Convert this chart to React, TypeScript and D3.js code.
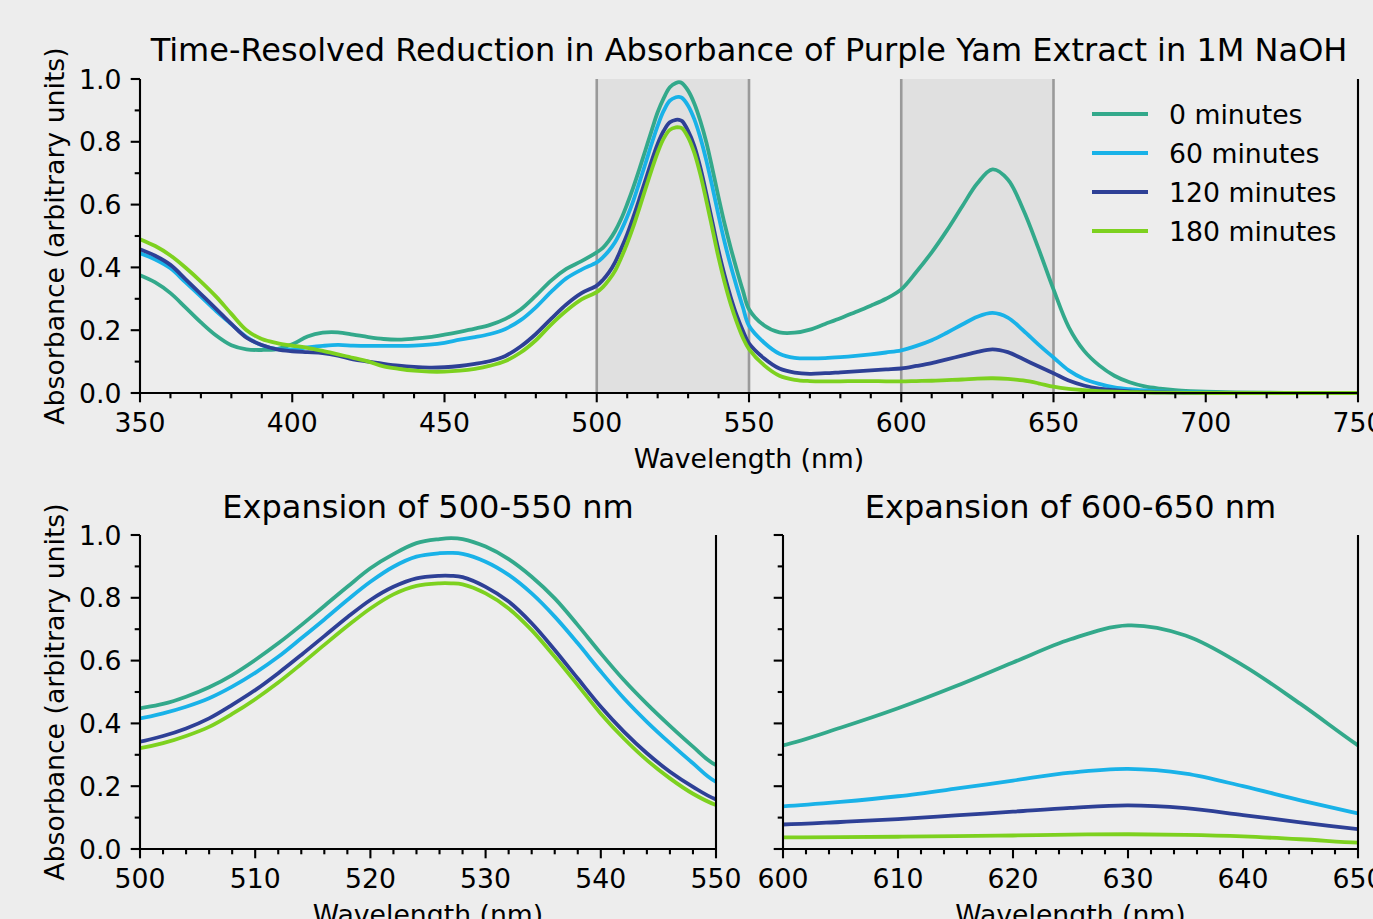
import React from 'react';
import * as d3 from 'd3';

// wavelengths (nm); finer spacing across the main peak
const wavelengths = [
  350, 355, 360, 365, 370, 375, 380, 385, 390, 395, 400, 405, 410, 415, 420, 425, 430, 435, 440, 445,
  450, 455, 460, 465, 470, 475, 480, 485, 490, 495, 500,
  502, 504, 506, 508, 510, 512, 514, 516, 518, 520, 522, 524, 526, 527, 528, 530, 532, 534, 536, 538,
  540, 542, 544, 546, 548, 550,
  555, 560, 565, 570, 575, 580, 585, 590, 595, 600,
  605, 610, 615, 620, 625, 630, 635, 640, 645, 650,
  655, 660, 665, 670, 675, 680, 685, 690, 695, 700,
  710, 720, 730, 740, 750,
];

const abs0min = [
  0.375, 0.352, 0.318, 0.272, 0.225, 0.183, 0.152, 0.139, 0.137, 0.140, 0.155, 0.180, 0.192, 0.193, 0.186, 0.178, 0.172, 0.170, 0.173, 0.178,
  0.186, 0.195, 0.205, 0.217, 0.236, 0.266, 0.310, 0.358, 0.395, 0.420, 0.448,
  0.462, 0.485, 0.515, 0.554, 0.602, 0.655, 0.713, 0.774, 0.835, 0.894, 0.939, 0.974, 0.987, 0.990, 0.987, 0.963, 0.923, 0.867, 0.798, 0.713,
  0.623, 0.538, 0.462, 0.392, 0.326, 0.267,
  0.215, 0.193, 0.192, 0.202, 0.220, 0.238, 0.258, 0.278, 0.300, 0.330,
  0.386, 0.448, 0.518, 0.594, 0.668, 0.712, 0.680, 0.585, 0.462, 0.330,
  0.210, 0.135, 0.088, 0.055, 0.034, 0.021, 0.014, 0.009, 0.006, 0.004,
  0.002, 0.001, 0.0005, 0, 0,
];

const abs60min = [
  0.445, 0.425, 0.397, 0.352, 0.307, 0.261, 0.219, 0.178, 0.152, 0.140, 0.139, 0.145, 0.150, 0.153, 0.151, 0.150, 0.150, 0.150, 0.151, 0.154,
  0.160, 0.170, 0.178, 0.188, 0.204, 0.232, 0.273, 0.322, 0.365, 0.393, 0.416,
  0.432, 0.453, 0.480, 0.517, 0.561, 0.612, 0.671, 0.731, 0.793, 0.851, 0.899, 0.931, 0.942, 0.943, 0.940, 0.915, 0.873, 0.814, 0.740, 0.655,
  0.565, 0.480, 0.405, 0.337, 0.273, 0.214,
  0.160, 0.125, 0.112, 0.110, 0.111, 0.114, 0.118, 0.123, 0.129, 0.136,
  0.150, 0.168, 0.192, 0.218, 0.243, 0.255, 0.240, 0.200, 0.155, 0.113,
  0.072, 0.045, 0.029, 0.018, 0.012, 0.008, 0.005, 0.003, 0.002, 0.001,
  0.0005, 0, 0, 0, 0,
];

const abs120min = [
  0.458, 0.437, 0.408, 0.362, 0.315, 0.268, 0.220, 0.176, 0.153, 0.139, 0.133, 0.130, 0.127, 0.119, 0.107, 0.100, 0.093, 0.087, 0.083, 0.081,
  0.082, 0.086, 0.093, 0.102, 0.118, 0.148, 0.188, 0.236, 0.282, 0.318, 0.342,
  0.360, 0.384, 0.416, 0.459, 0.506, 0.560, 0.618, 0.678, 0.738, 0.793, 0.835, 0.862, 0.870, 0.870, 0.866, 0.835, 0.788, 0.719, 0.634, 0.543,
  0.453, 0.374, 0.305, 0.246, 0.198, 0.158,
  0.110, 0.078, 0.065, 0.061, 0.063, 0.066, 0.069, 0.072, 0.075, 0.078,
  0.086, 0.095, 0.107, 0.119, 0.131, 0.139, 0.130, 0.108, 0.085, 0.063,
  0.040, 0.024, 0.014, 0.009, 0.005, 0.003, 0.002, 0.001, 0.0005, 0,
  0, 0, 0, 0, 0,
];

const abs180min = [
  0.490, 0.468, 0.438, 0.399, 0.355, 0.307, 0.252, 0.200, 0.172, 0.159, 0.151, 0.144, 0.134, 0.123, 0.112, 0.100, 0.085, 0.077, 0.071, 0.068,
  0.068, 0.071, 0.077, 0.087, 0.102, 0.129, 0.168, 0.218, 0.262, 0.298, 0.321,
  0.337, 0.360, 0.389, 0.430, 0.477, 0.530, 0.589, 0.650, 0.710, 0.766, 0.811, 0.838, 0.846, 0.846, 0.843, 0.814, 0.766, 0.697, 0.612, 0.522,
  0.431, 0.352, 0.283, 0.225, 0.176, 0.140,
  0.088, 0.055, 0.042, 0.038, 0.037, 0.037, 0.038, 0.038, 0.037, 0.037,
  0.038, 0.039, 0.041, 0.043, 0.046, 0.047, 0.045, 0.040, 0.031, 0.020,
  0.013, 0.009, 0.006, 0.004, 0.003, 0.002, 0.001, 0.001, 0.0005, 0,
  0, 0, 0, 0, 0,
];

const seriesNames = ['0 minutes', '60 minutes', '120 minutes', '180 minutes'];
const seriesValues = [abs0min, abs60min, abs120min, abs180min];
const seriesColors = ['#33a98b', '#19b2e8', '#2e4096', '#7dd11f'];

const highlightBands = [[500, 550], [600, 650]];

const FONT = 'DejaVu Sans';
const BG = '#ededed';
const FS = 26.7;
const TITLE_FS = 32;

const fmtY = d3.format('.1f');

type PanelProps = {
  id: string;
  x0: number; x1: number; y0: number; y1: number;
  domain: [number, number];
  majorStep: number;
  minorStep: number;
  title: string;
  titleY: number;
  showYLabels: boolean;
  bands?: number[][];
};

const Panel = (props: PanelProps) => {
  const { id, x0, x1, y0, y1, domain, majorStep, minorStep } = props;
  const x = d3.scaleLinear().domain(domain).range([x0, x1]);
  const y = d3.scaleLinear().domain([0, 1]).range([y1, y0]);

  const xMajor = d3.range(domain[0], domain[1] + 0.001, majorStep);
  const xMinor = d3.range(domain[0], domain[1] + 0.001, minorStep).filter(v => !xMajor.includes(v));
  const yMajor = d3.range(0, 1.0001, 0.2);
  const yMinor = d3.range(0.1, 1, 0.2);

  const line = d3.line<number>()
    .x((d, i) => x(wavelengths[i]))
    .y(d => y(d))
    .curve(d3.curveCatmullRom.alpha(0.5));

  const majorLen = 9.3;
  const minorLen = 5.3;

  return (
    <g>
      <defs>
        <clipPath id={id}>
          <rect x={x0} y={y0 - 2} width={x1 - x0} height={y1 - y0 + 4} />
        </clipPath>
      </defs>

      {(props.bands || []).map((b, i) => (
        <g key={i}>
          <rect x={x(b[0])} y={y0} width={x(b[1]) - x(b[0])} height={y1 - y0} fill="#e0e0e0" />
          <line x1={x(b[0])} x2={x(b[0])} y1={y0} y2={y1} stroke="#9a9a9a" strokeWidth={2.6} />
          <line x1={x(b[1])} x2={x(b[1])} y1={y0} y2={y1} stroke="#9a9a9a" strokeWidth={2.6} />
        </g>
      ))}

      <g clipPath={`url(#${id})`}>
        {seriesValues.map((vals, i) => (
          <path key={i} d={line(vals) || ''} fill="none" stroke={seriesColors[i]} strokeWidth={3.8} />
        ))}
      </g>

      {/* spines: left, bottom, right */}
      <line x1={x0} x2={x0} y1={y0} y2={y1} stroke="#000" strokeWidth={2.1} />
      <line x1={x1} x2={x1} y1={y0} y2={y1} stroke="#000" strokeWidth={2.1} />
      <line x1={x0 - 1} x2={x1 + 1} y1={y1} y2={y1} stroke="#000" strokeWidth={2.1} />

      {/* x ticks */}
      {xMajor.map(v => (
        <g key={'xm' + v}>
          <line x1={x(v)} x2={x(v)} y1={y1} y2={y1 + majorLen} stroke="#000" strokeWidth={2.1} />
          <text x={x(v)} y={y1 + 39} textAnchor="middle" fontSize={FS} fontFamily={FONT}>{v}</text>
        </g>
      ))}
      {xMinor.map(v => (
        <line key={'xn' + v} x1={x(v)} x2={x(v)} y1={y1} y2={y1 + minorLen} stroke="#000" strokeWidth={2.1} />
      ))}

      {/* y ticks */}
      {yMajor.map(v => (
        <g key={'ym' + v}>
          <line x1={x0 - majorLen} x2={x0} y1={y(v)} y2={y(v)} stroke="#000" strokeWidth={2.1} />
          {props.showYLabels && (
            <text x={x0 - 18.5} y={y(v)} dy="0.36em" textAnchor="end" fontSize={FS} fontFamily={FONT}>{fmtY(v)}</text>
          )}
        </g>
      ))}
      {yMinor.map(v => (
        <line key={'yn' + v} x1={x0 - minorLen} x2={x0} y1={y(v)} y2={y(v)} stroke="#000" strokeWidth={2.1} />
      ))}

      <text x={(x0 + x1) / 2} y={y1 + 75} textAnchor="middle" fontSize={FS} fontFamily={FONT}>Wavelength (nm)</text>
      {props.showYLabels && (
        <text transform={`translate(64,${(y0 + y1) / 2}) rotate(-90)`} textAnchor="middle" fontSize={FS} fontFamily={FONT}>
          Absorbance (arbitrary units)
        </text>
      )}
      <text x={(x0 + x1) / 2} y={props.titleY} textAnchor="middle" fontSize={TITLE_FS} fontFamily={FONT}>{props.title}</text>
    </g>
  );
};

const App = () => {
  const legendX = 1092;
  const legendY = 114;
  const legendStep = 39;
  return (
    <svg width={1373} height={919} style={{ position: 'absolute', left: 0, top: 0, display: 'block' }}>
      <rect x={0} y={0} width={1373} height={919} fill={BG} />
      <Panel
        id="clip-top" x0={140} x1={1358} y0={79} y1={393}
        domain={[350, 750]} majorStep={50} minorStep={10}
        title="Time-Resolved Reduction in Absorbance of Purple Yam Extract in 1M NaOH" titleY={61}
        showYLabels={true} bands={highlightBands}
      />
      <Panel
        id="clip-bl" x0={140} x1={716} y0={535} y1={849}
        domain={[500, 550]} majorStep={10} minorStep={2}
        title="Expansion of 500-550 nm" titleY={518}
        showYLabels={true}
      />
      <Panel
        id="clip-br" x0={783} x1={1358} y0={535} y1={849}
        domain={[600, 650]} majorStep={10} minorStep={2}
        title="Expansion of 600-650 nm" titleY={518}
        showYLabels={false}
      />
      {seriesNames.map((name, i) => (
        <g key={name}>
          <line x1={legendX} x2={legendX + 56} y1={legendY + i * legendStep} y2={legendY + i * legendStep}
            stroke={seriesColors[i]} strokeWidth={3.8} />
          <text x={legendX + 77} y={legendY + i * legendStep} dy="0.36em" fontSize={FS} fontFamily={FONT}>{name}</text>
        </g>
      ))}
    </svg>
  );
};

export default App;
